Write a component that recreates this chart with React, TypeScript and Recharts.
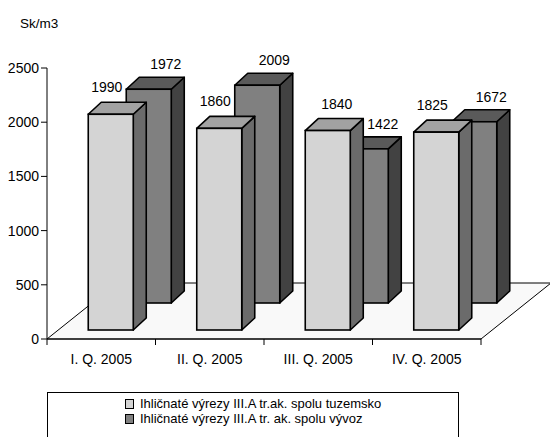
import React from 'react';
import { BarChart, Bar, XAxis, YAxis, LabelList } from 'recharts';

const categories = ['I. Q. 2005', 'II. Q. 2005', 'III. Q. 2005', 'IV. Q. 2005'];
const domesticValues = [1990, 1860, 1840, 1825];
const exportValues = [1972, 2009, 1422, 1672];
const yTicks = [0, 500, 1000, 1500, 2000, 2500];
const seriesNames = [
  'Ihličnaté výrezy III.A tr.ak. spolu tuzemsko',
  'Ihličnaté výrezy III.A tr. ak. spolu vývoz',
];
const unitLabel = 'Sk/m3';

const data = categories.map((name, i) => ({
  name,
  domestic: domesticValues[i],
  export: exportValues[i],
}));

// layout
const W = 550;
const H = 437;
const MARGIN = { top: 68, right: 69, bottom: 68, left: 0 };
const Y_AXIS_W = 47;
const X_AXIS_H = 30;
const PLOT_LEFT = MARGIN.left + Y_AXIS_W;
const PLOT_RIGHT = W - MARGIN.right;
const AXIS_Y = H - MARGIN.bottom - X_AXIS_H;
const FLOOR_DX = 70;
const FLOOR_DY = 56;
const BOX_DX = 13;
const BOX_DY = 12;
const FONT = '"Liberation Sans", Arial, sans-serif';

const LIGHT = { front: '#d4d4d4', top: '#a2a2a2', side: '#6b6b6b', shiftX: 9.25, shiftY: 9 };
const DARK = { front: '#808080', top: '#5a5a5a', side: '#424242', shiftX: 47.25, shiftY: 36 };

function makeBox(style: typeof LIGHT, drawFloor: boolean) {
  return (props: any) => {
    const { x, y, width, height, index } = props;
    const fx = x + style.shiftX;
    const top = y - style.shiftY;
    const bottom = y + height - style.shiftY;
    const w = width;
    const floor =
      drawFloor && index === 0 ? (
        <polygon
          points={`${PLOT_LEFT},${AXIS_Y} ${PLOT_RIGHT},${AXIS_Y} ${PLOT_RIGHT + FLOOR_DX},${AXIS_Y - FLOOR_DY} ${PLOT_LEFT + FLOOR_DX},${AXIS_Y - FLOOR_DY}`}
          fill="#f9f9f9"
          stroke="#000"
          strokeWidth={1}
        />
      ) : null;
    return (
      <g>
        {floor}
        <polygon
          points={`${fx + w},${top} ${fx + w + BOX_DX},${top - BOX_DY} ${fx + w + BOX_DX},${bottom - BOX_DY} ${fx + w},${bottom}`}
          fill={style.side}
          stroke="#000"
          strokeWidth={1.6}
          strokeLinejoin="round"
        />
        <polygon
          points={`${fx},${top} ${fx + BOX_DX},${top - BOX_DY} ${fx + w + BOX_DX},${top - BOX_DY} ${fx + w},${top}`}
          fill={style.top}
          stroke="#000"
          strokeWidth={1.6}
          strokeLinejoin="round"
        />
        <rect x={fx} y={top} width={w} height={bottom - top} fill={style.front} stroke="#000" strokeWidth={1.6} />
      </g>
    );
  };
}

function makeLabel(style: typeof LIGHT, dxCenter: number, dyBase: number, nudges: Record<number, number>) {
  return (props: any) => {
    const { x, y, width, value, index } = props;
    const cx = Number(x) + style.shiftX + Number(width) / 2 + dxCenter + (nudges[index] || 0);
    const top = Number(y) - style.shiftY;
    return (
      <text x={cx} y={top - dyBase} textAnchor="middle" fontSize={14} fontFamily={FONT} fill="#000">
        {value}
      </text>
    );
  };
}

const XTick = (props: any) => {
  const { x, payload, index } = props;
  const off = payload && payload.offset ? payload.offset : (PLOT_RIGHT - PLOT_LEFT) / categories.length / 2;
  return (
    <g>
      <line x1={x - off} y1={AXIS_Y} x2={x - off} y2={AXIS_Y + 6} stroke="#000" strokeWidth={1} />
      {index === categories.length - 1 ? (
        <line x1={x + off} y1={AXIS_Y} x2={x + off} y2={AXIS_Y + 6} stroke="#000" strokeWidth={1} />
      ) : null}
      <text x={x} y={AXIS_Y + 25} textAnchor="middle" fontSize={14} fontFamily={FONT} fill="#000">
        {payload.value}
      </text>
    </g>
  );
};

export default function App() {
  return (
    <div
      style={{
        position: 'absolute',
        left: 0,
        top: 0,
        width: W,
        height: H,
        overflow: 'hidden',
        background: '#fff',
        fontFamily: FONT,
      }}
    >
      <div style={{ position: 'absolute', left: 20, top: 16, fontSize: 13.5, lineHeight: '16px', color: '#000' }}>
        {unitLabel}
      </div>
      <BarChart width={W} height={H} data={data} margin={MARGIN} barSize={45} barGap={-45} barCategoryGap={0}>
        <XAxis
          dataKey="name"
          height={X_AXIS_H}
          axisLine={{ stroke: '#000', strokeWidth: 1 }}
          tickLine={false}
          tick={<XTick />}
          interval={0}
        />
        <YAxis
          width={Y_AXIS_W}
          domain={[0, 2500]}
          ticks={yTicks}
          interval={0}
          axisLine={{ stroke: '#000', strokeWidth: 1 }}
          tickLine={{ stroke: '#000', strokeWidth: 1 }}
          tickSize={6}
          tick={{ fill: '#000', fontSize: 14, fontFamily: FONT }}
        />
        <Bar dataKey="export" isAnimationActive={false} shape={makeBox(DARK, true)}>
          <LabelList dataKey="export" content={makeLabel(DARK, 17, 20, {})} />
        </Bar>
        <Bar dataKey="domestic" isAnimationActive={false} shape={makeBox(LIGHT, false)}>
          <LabelList dataKey="domestic" content={makeLabel(LIGHT, -4, 22, { 2: 13 })} />
        </Bar>
      </BarChart>
      <div
        style={{
          position: 'absolute',
          left: 47,
          top: 392,
          width: 412,
          height: 60,
          border: '1px solid #000',
          boxSizing: 'border-box',
        }}
      >
        {seriesNames.map((name, i) => (
          <div
            key={name}
            style={{
              position: 'absolute',
              left: 77,
              top: 3 + i * 15,
              height: 15,
              lineHeight: '15px',
              fontSize: 13,
              whiteSpace: 'nowrap',
              color: '#000',
              display: 'flex',
              alignItems: 'center',
            }}
          >
            <span
              style={{
                display: 'inline-block',
                width: 7,
                height: 8,
                border: '1px solid #000',
                background: i === 0 ? LIGHT.front : DARK.front,
                marginRight: 6,
              }}
            />
            {name}
          </div>
        ))}
      </div>
    </div>
  );
}
